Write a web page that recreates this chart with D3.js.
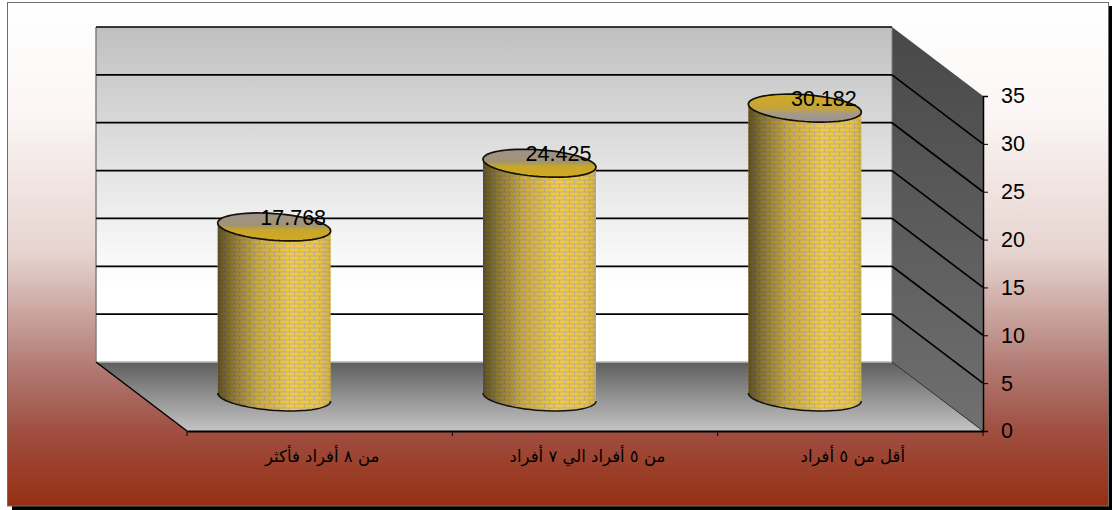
<!DOCTYPE html>
<html lang="ar">
<head>
<meta charset="utf-8">
<script src="https://cdn.jsdelivr.net/npm/d3@7/dist/d3.min.js"></script>
<style>
  html, body { margin: 0; padding: 0; background: #fff; }
  svg { display: block; }
  text { font-family: "Liberation Sans", Arial, sans-serif; fill: #000; }
  .cat { font-family: "DejaVu Sans", "Liberation Sans", sans-serif; direction: rtl; }
</style>
</head>
<body>
<svg id="chart" width="1112" height="510" xmlns="http://www.w3.org/2000/svg"></svg>
<script>
// Household size groups and their percentage shares
const categories = ["من ٨ أفراد فأكثر", "من ٥ أفراد الي ٧ أفراد", "أقل من ٥ أفراد"];
const values = [17.768, 24.425, 30.182];
const valueLabels = ["17.768", "24.425", "30.182"];
const yTicks = [0, 5, 10, 15, 20, 25, 30, 35];

// Oblique box: front plane of the axes plus a depth offset to the back wall
const front = { left: 187, right: 983, top: 96, bottom: 431 };
const depth = { dx: 91, dy: 69 };

const svg = d3.select("#chart");
const defs = svg.append("defs");

function linearGradient(id, stops) {
  const g = defs.append("linearGradient").attr("id", id)
    .attr("x1", 0).attr("y1", 0).attr("x2", 0).attr("y2", 1);
  stops.forEach(([o, c]) => g.append("stop").attr("offset", o).attr("stop-color", c));
}
linearGradient("paper", [[0, "#ffffff"], [0.22, "#fbf6f5"], [0.5, "#e6d3cf"], [0.72, "#b27c75"], [0.85, "#a04f42"], [1, "#962f12"]]);
linearGradient("wall", [[0, "#c0c0c0"], [0.45, "#e6e6e6"], [0.78, "#ffffff"], [1, "#ffffff"]]);
linearGradient("floor", [[0, "#5e5e5e"], [1, "#c4c4c4"]]);
linearGradient("side", [[0, "#484848"], [1, "#707070"]]);
linearGradient("capGrey", [[0, "#9c9290"], [0.45, "#a29470"], [0.62, "#c8a62a"], [1, "#d0aa20"]]);
linearGradient("capGold", [[0, "#d0aa20"], [0.5, "#c4a43a"], [0.72, "#a49a88"], [1, "#9c9290"]]);

// Horizontal light falloff across the curved cylinder wall
const shade = defs.append("linearGradient").attr("id", "shade");
[[0, 0.6], [0.12, 0.42], [0.35, 0.16], [0.65, 0], [0.9, 0.03], [1, 0.12]].forEach(([o, a]) =>
  shade.append("stop").attr("offset", o).attr("stop-color", "#000").attr("stop-opacity", a));

// Running-bond brick texture for the cylinder walls
const brick = defs.append("pattern").attr("id", "brick").attr("patternUnits", "userSpaceOnUse")
  .attr("width", 10).attr("height", 8);
brick.append("rect").attr("width", 10).attr("height", 8).attr("fill", "#c0aca0");
brick.append("rect").attr("x", 0).attr("y", 0.5).attr("width", 9).attr("height", 3).attr("fill", "#f2cc3c");
brick.append("rect").attr("x", -5).attr("y", 4.5).attr("width", 9).attr("height", 3).attr("fill", "#f2cc3c");
brick.append("rect").attr("x", 5).attr("y", 4.5).attr("width", 9).attr("height", 3).attr("fill", "#f2cc3c");

const y = d3.scaleLinear().domain([0, 35]).range([front.bottom, front.top]);
const x = d3.scaleBand().domain(categories).range([front.left, front.right]);
const line = d3.line();

// Chart area with its drop shadow
svg.append("rect").attr("x", 12).attr("y", 6).attr("width", 1100).attr("height", 504).attr("fill", "#000");
svg.append("rect").attr("x", 7.5).attr("y", 2.5).attr("width", 1101).attr("height", 503.5)
  .attr("fill", "url(#paper)").attr("stroke", "#6e6e6e").attr("stroke-width", 1);

// Back wall, floor and side wall
const wallTop = y(35) - depth.dy, wallBottom = y(0) - depth.dy;
const wallLeft = front.left - depth.dx, wallRight = front.right - depth.dx;

svg.append("rect").attr("x", wallLeft).attr("y", wallTop)
  .attr("width", wallRight - wallLeft).attr("height", wallBottom - wallTop).attr("fill", "url(#wall)");
svg.append("path").attr("fill", "url(#floor)")
  .attr("d", line([[wallLeft, wallBottom], [wallRight, wallBottom], [front.right, front.bottom], [front.left, front.bottom]]) + "Z");
svg.append("path").attr("fill", "url(#side)")
  .attr("d", line([[wallRight, wallTop], [front.right, front.top], [front.right, front.bottom], [wallRight, wallBottom]]) + "Z");

// Wall edges
svg.append("line").attr("x1", wallLeft).attr("x2", wallLeft).attr("y1", wallTop).attr("y2", wallBottom)
  .attr("stroke", "#808080").attr("stroke-width", 1.5);
svg.append("line").attr("x1", wallLeft).attr("x2", wallRight).attr("y1", wallBottom).attr("y2", wallBottom)
  .attr("stroke", "#b8b8b8").attr("stroke-width", 1.5);
svg.append("line").attr("x1", wallRight).attr("x2", wallRight).attr("y1", wallTop).attr("y2", wallBottom)
  .attr("stroke", "#808080").attr("stroke-width", 1);

// Gridlines run across the back wall and down the side wall
const grid = svg.append("g").attr("fill", "none").attr("stroke", "#000").attr("stroke-width", 1.7);
yTicks.filter(t => t > 0).forEach(t => {
  const py = y(t);
  grid.append("line").attr("x1", wallLeft).attr("x2", wallRight)
    .attr("y1", py - depth.dy).attr("y2", py - depth.dy);
  if (t < 35) {
    grid.append("line").attr("x1", wallRight).attr("x2", front.right)
      .attr("y1", py - depth.dy).attr("y2", py);
  }
});

// Floor edges
svg.append("line").attr("x1", wallLeft).attr("y1", wallBottom).attr("x2", front.left).attr("y2", front.bottom)
  .attr("stroke", "#000").attr("stroke-width", 1.5);
svg.append("line").attr("x1", wallRight).attr("y1", wallBottom).attr("x2", front.right).attr("y2", front.bottom)
  .attr("stroke", "#303030").attr("stroke-width", 1);

// Axes
const yAxis = svg.append("g").attr("transform", `translate(${front.right},0)`)
  .call(d3.axisRight(y).tickValues(yTicks).tickSize(5).tickPadding(13));
yAxis.select(".domain").attr("stroke", "#000").attr("stroke-width", 1.5);
yAxis.selectAll("text").attr("font-size", 21.5).attr("font-family", "Liberation Sans");

const xAxis = svg.append("g").attr("transform", `translate(0,${front.bottom})`)
  .call(d3.axisBottom(x).tickSize(0).tickPadding(0));
xAxis.select(".domain").attr("stroke", "#000").attr("stroke-width", 2);
xAxis.selectAll("text").attr("class", "cat").attr("font-size", 16.5)
  .attr("dx", 2.5).attr("y", 31).attr("dy", 0);
[...categories.map(c => x(c)), front.right].forEach(px =>
  xAxis.append("line").attr("x1", px).attr("x2", px).attr("y1", 0).attr("y2", 5)
    .attr("stroke", "#000").attr("stroke-width", 1));

// Cylinders stand midway into the depth of the box
const rx = 56.5, tilt = 4, ry = 13.4;
const ringPoint = (cx, cy, t) => [cx + rx * Math.cos(t), cy + tilt * Math.cos(t) + ry * Math.sin(t)];
const arc = (cx, cy, a0, a1) => d3.range(0, 61).map(i => ringPoint(cx, cy, a0 + (a1 - a0) * i / 60));

const bars = svg.append("g").selectAll("g").data(values).join("g");
bars.each(function (v, i) {
  const g = d3.select(this);
  const cx = x(categories[i]) + x.bandwidth() / 2 - depth.dx / 2;
  const base = y(0) - depth.dy / 2 + 0.5;
  const top = y(v) - depth.dy / 2 + 0.5;
  const lower = arc(cx, base, 0, Math.PI);
  const outline = [...lower, ringPoint(cx, top, Math.PI), ringPoint(cx, top, 0)];

  g.append("path").attr("d", line(outline) + "Z").attr("fill", "url(#brick)");
  g.append("path").attr("d", line(outline) + "Z").attr("fill", "url(#shade)");
  g.append("path").attr("d", line(lower)).attr("fill", "none").attr("stroke", "#111").attr("stroke-width", 1.5);
  g.append("path").attr("d", line(arc(cx, top, 0, 2 * Math.PI)) + "Z")
    .attr("fill", i === 2 ? "url(#capGold)" : "url(#capGrey)")
    .attr("stroke", "#141005").attr("stroke-width", 1.7);
  g.append("text").attr("x", cx + 19).attr("y", top - 2).attr("text-anchor", "middle")
    .attr("font-size", 21.5).text(valueLabels[i]);
});
</script>
</body>
</html>
